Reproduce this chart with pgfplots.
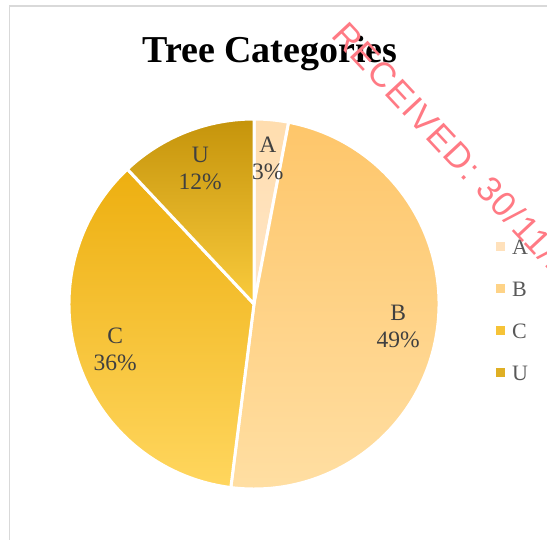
\documentclass[border=0pt]{standalone}
\usepackage{fontspec}
\setmainfont{Liberation Serif}
\newfontfamily\wmfont[LetterSpace=4]{Liberation Sans}
\usepackage{pgfplots}
\pgfplotsset{compat=1.18}

% slice gradients: 1 = top, 2 = bottom
\definecolor{pieA1}{HTML}{FFDDAE}
\definecolor{pieA2}{HTML}{FFE6C8}
\definecolor{pieB1}{HTML}{FEC66A}
\definecolor{pieB2}{HTML}{FFDFA4}
\definecolor{pieC1}{HTML}{EDAF10}
\definecolor{pieC2}{HTML}{FFD65E}
\definecolor{pieU1}{HTML}{C5940B}
\definecolor{pieU2}{HTML}{FACB3D}
\definecolor{labelgray}{HTML}{404040}
\definecolor{legendgray}{HTML}{595959}
\definecolor{framegray}{HTML}{D9D9D9}
\definecolor{stamp}{HTML}{FF7A84}

\begin{document}
\begin{tikzpicture}
\path[use as bounding box] (0,0) rectangle (547pt,540pt);
\begin{axis}[
  at={(0,0)}, anchor=south west,
  width=547pt, height=540pt, scale only axis,
  xmin=0, xmax=547, ymin=0, ymax=540, y dir=reverse,
  hide axis, clip=true,
]
\pgfplotsextra{
  \draw[framegray, line width=1.5pt] (axis cs:9.5,6) rectangle (axis cs:600,600);
  \node[font=\bfseries\fontsize{38}{44}\selectfont, anchor=base]
    at (axis cs:270,63) {Tree Categories};
  % slices, clockwise from 12 o'clock
  \gdef\pieangle{90}
  \foreach \v/\lab in {3/A, 49/B, 36/C, 12/U}{
    \pgfmathsetmacro\aend{\pieangle-3.6*\v}
    \shadedraw[top color=pie\lab1, bottom color=pie\lab2, draw=white,
               line width=3pt, line join=round]
      (axis cs:254,304) -- ++(\pieangle:185pt)
      arc[start angle=\pieangle, end angle=\aend, radius=185pt] -- cycle;
    \xdef\pieangle{\aend}
  }
  % data labels
  \gdef\pieangle{90}
  \foreach \v/\lab in {3/A, 49/B, 36/C, 12/U}{
    \pgfmathsetmacro\aend{\pieangle-3.6*\v}
    \pgfmathsetmacro\amid{(\pieangle+\aend)/2}
    \node[align=center, text=labelgray, inner sep=0,
          font=\fontsize{23.5}{27}\selectfont]
      at ([shift={(\amid:146pt)}]axis cs:254,304) {\lab\\\v\%};
    \xdef\pieangle{\aend}
  }
  % legend
  \foreach \lab/\y in {A/247, B/289, C/331, U/373}{
    \fill[pie\lab1!50!pie\lab2] (axis cs:496,\y-4.5) rectangle (axis cs:505,\y+4.5);
    \node[anchor=west, inner sep=0, text=legendgray,
          font=\fontsize{22}{26}\selectfont] at (axis cs:512,\y) {\lab};
  }
  % stamp
  \node[anchor=base west, rotate=-47, inner sep=0, text=stamp,
        font=\wmfont\fontsize{35}{40}\selectfont]
    at (axis cs:330,36) {RECEIVED: 30/11/2023};
}
\end{axis}
\end{tikzpicture}
\end{document}
